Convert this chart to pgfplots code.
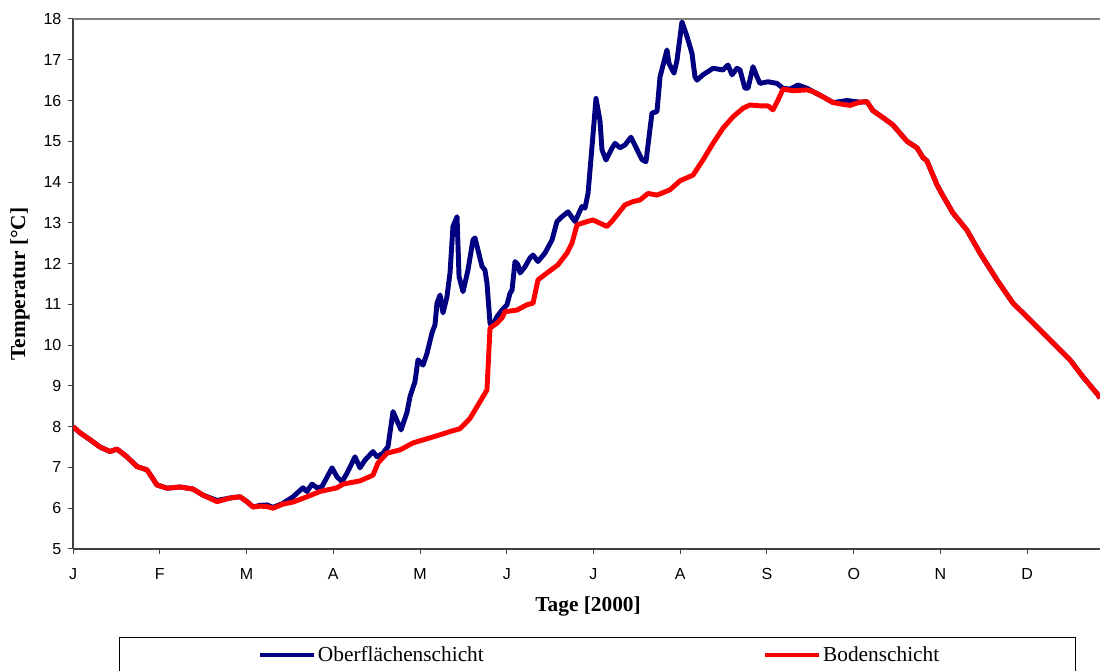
\documentclass[border=0pt]{standalone}
\usepackage{fontspec}
\setmainfont{Liberation Serif}
\setsansfont{Liberation Sans}
\usepackage{pgfplots}
\pgfplotsset{compat=1.18}
\usepackage{pgfplotstable}
\definecolor{navyblue}{RGB}{0,0,128}
\definecolor{axgray}{RGB}{64,64,64}
\definecolor{topgray}{RGB}{128,128,128}

% Bodenschicht (month index, temperature)
\pgfplotstableread{
m T
0.000 8.00
0.081 7.85
0.196 7.68
0.311 7.50
0.427 7.39
0.507 7.45
0.622 7.26
0.738 7.02
0.853 6.94
0.968 6.57
1.084 6.49
1.233 6.52
1.383 6.47
1.499 6.32
1.660 6.16
1.810 6.25
1.925 6.28
2.006 6.16
2.075 6.03
2.156 6.05
2.236 6.04
2.305 6.00
2.421 6.10
2.536 6.15
2.697 6.28
2.847 6.41
3.043 6.50
3.112 6.59
3.308 6.67
3.458 6.81
3.516 7.11
3.620 7.35
3.769 7.43
3.919 7.60
4.231 7.80
4.346 7.88
4.461 7.95
4.576 8.20
4.657 8.49
4.772 8.90
4.807 10.42
4.888 10.54
4.945 10.67
4.980 10.82
5.118 10.86
5.233 10.99
5.303 11.03
5.360 11.60
5.464 11.77
5.591 11.97
5.695 12.26
5.752 12.50
5.810 12.95
5.925 13.03
5.994 13.07
6.156 12.91
6.225 13.07
6.363 13.44
6.455 13.52
6.536 13.56
6.628 13.72
6.732 13.68
6.882 13.81
6.997 14.03
7.147 14.17
7.262 14.54
7.378 14.95
7.493 15.32
7.608 15.60
7.723 15.81
7.804 15.89
7.919 15.87
8.012 15.87
8.069 15.77
8.127 16.01
8.184 16.28
8.300 16.24
8.461 16.26
8.530 16.22
8.646 16.09
8.761 15.95
8.865 15.91
8.957 15.88
9.072 15.96
9.153 15.97
9.222 15.75
9.337 15.58
9.452 15.40
9.614 15.00
9.729 14.84
9.798 14.60
9.844 14.52
9.960 13.93
10.029 13.66
10.144 13.24
10.305 12.82
10.455 12.26
10.651 11.60
10.836 11.03
11.032 10.62
11.262 10.13
11.493 9.64
11.643 9.22
11.816 8.78
11.839 8.70
}\boden

% Oberflaechenschicht
\pgfplotstableread{
m T
0.000 8.00
0.081 7.85
0.196 7.68
0.311 7.50
0.427 7.39
0.507 7.45
0.622 7.26
0.738 7.02
0.853 6.94
0.968 6.57
1.084 6.49
1.233 6.52
1.383 6.47
1.499 6.32
1.660 6.19
1.810 6.25
1.925 6.28
2.006 6.16
2.075 6.03
2.156 6.07
2.236 6.08
2.305 6.02
2.421 6.12
2.536 6.28
2.651 6.50
2.697 6.41
2.755 6.59
2.813 6.50
2.870 6.53
2.986 6.99
3.043 6.77
3.101 6.65
3.159 6.86
3.251 7.26
3.308 6.99
3.366 7.18
3.458 7.39
3.504 7.26
3.573 7.35
3.631 7.51
3.689 8.37
3.781 7.92
3.850 8.35
3.885 8.74
3.942 9.10
3.977 9.64
4.035 9.51
4.081 9.80
4.138 10.30
4.173 10.50
4.196 11.03
4.231 11.23
4.265 10.79
4.311 11.19
4.346 11.77
4.380 12.91
4.427 13.15
4.450 11.68
4.496 11.31
4.553 11.84
4.611 12.58
4.634 12.63
4.715 11.93
4.749 11.84
4.772 11.52
4.807 10.54
4.830 10.45
4.888 10.70
4.945 10.86
5.003 10.99
5.037 11.27
5.061 11.35
5.095 12.05
5.130 11.97
5.153 11.77
5.210 11.92
5.268 12.14
5.303 12.21
5.360 12.05
5.441 12.26
5.522 12.58
5.579 13.03
5.637 13.15
5.706 13.27
5.787 13.03
5.867 13.40
5.902 13.36
5.937 13.72
5.983 14.87
6.029 16.05
6.075 15.50
6.098 14.79
6.144 14.54
6.213 14.83
6.248 14.95
6.305 14.84
6.363 14.91
6.432 15.10
6.478 14.90
6.559 14.55
6.605 14.50
6.674 15.69
6.732 15.73
6.767 16.58
6.847 17.24
6.870 16.91
6.928 16.67
6.963 16.99
7.020 17.93
7.078 17.57
7.135 17.16
7.170 16.58
7.193 16.50
7.262 16.63
7.378 16.79
7.493 16.75
7.550 16.87
7.597 16.63
7.654 16.79
7.689 16.75
7.746 16.30
7.781 16.30
7.839 16.83
7.885 16.58
7.919 16.42
8.012 16.46
8.115 16.42
8.184 16.30
8.265 16.28
8.357 16.38
8.461 16.30
8.530 16.22
8.646 16.09
8.761 15.95
8.865 15.98
8.922 16.00
8.991 15.98
9.072 15.96
9.153 15.97
9.222 15.75
9.337 15.58
9.452 15.40
9.614 15.00
9.729 14.84
9.798 14.60
9.844 14.52
9.960 13.93
10.029 13.66
10.144 13.24
10.305 12.82
10.455 12.26
10.651 11.60
10.836 11.03
11.032 10.62
11.262 10.13
11.493 9.64
11.643 9.22
11.816 8.78
11.839 8.70
}\oberflaeche

\begin{document}
\begin{tikzpicture}
\begin{axis}[
  scale only axis,
  width=770.25pt, height=397.5pt,
  xmin=0, xmax=11.839, ymin=5, ymax=18,
  clip mode=individual,
  axis x line*=bottom, axis y line*=left,
  axis line style={axgray, line width=1.1pt},
  xtick={0,...,11},
  xticklabels={J,F,M,A,M,J,J,A,S,O,N,D},
  ytick={5,...,18},
  xtick pos=left, ytick pos=left,
  tick align=outside,
  major tick length=3.75pt,
  tick style={axgray, line width=0.75pt},
  ticklabel style={font=\sffamily\fontsize{12}{14}\selectfont},
  xticklabel style={yshift=-7.5pt},
  yticklabel style={xshift=-1.5pt},
  /pgf/number format/assume math mode=true,
  xlabel={\textbf{Tage [2000]}},
  ylabel={\textbf{Temperatur [°C]}},
  label style={font=\fontsize{16}{18}\selectfont},
  xlabel style={at={(axis description cs:0.5015,-0.1094)}, anchor=center},
  ylabel style={at={(axis description cs:-0.0516,0.5)}, anchor=center},
  legend style={at={(axis description cs:0.1801,-0.2)}, anchor=west,
    draw=none, fill=none, inner sep=0pt, outer sep=0pt,
    font=\fontsize{16}{18}\selectfont,
    nodes={inner sep=1.5pt},
    /tikz/every even column/.append style={column sep=208pt}},
  legend columns=2,
  legend image code/.code={\draw[#1, line width=3pt] (0pt,0pt) -- (40.5pt,0pt);},
]
\addplot[navyblue, line width=3.7pt, line join=round] table[x=m, y=T] {\oberflaeche};
\addlegendentry{Oberflächenschicht}
\addplot[red, line width=3.7pt, line join=round] table[x=m, y=T] {\boden};
\addlegendentry{Bodenschicht}
\draw[topgray, line width=1.1pt] (axis description cs:0,1) -- (axis description cs:1,1);
\draw[black, line width=0.75pt] (axis description cs:0.0448,-0.1679) rectangle (axis description cs:0.9766,-0.40);
\coordinate (BL) at (axis description cs:-0.0711,-0.2302);
\coordinate (TR) at (axis description cs:1,1.0358);
\end{axis}
\pgfresetboundingbox
\path[use as bounding box] (BL) rectangle (TR);
\end{tikzpicture}
\end{document}
